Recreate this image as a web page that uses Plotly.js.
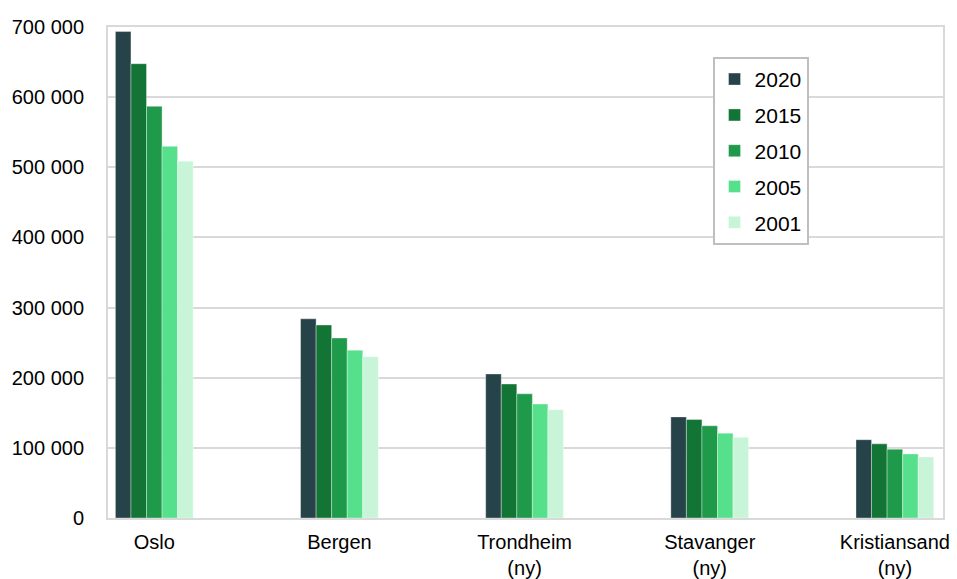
<!DOCTYPE html>
<html>
<head>
<meta charset="utf-8">
<script src="https://cdn.plot.ly/plotly-3.0.1.min.js"></script>
<style>html,body{margin:0;padding:0;background:#fff;}#chart{width:957px;height:579px;}</style>
</head>
<body>
<div id="chart"></div>
<script>
const categories = ["Oslo", "Bergen", "Trondheim<br>(ny)", "Stavanger<br>(ny)", "Kristiansand<br>(ny)"];
const years = ["2020", "2015", "2010", "2005", "2001"];
const v2020 = [693494, 283929, 205332, 144147, 111633];
const v2015 = [647676, 275112, 191000, 140400, 105700];
const v2010 = [586860, 256600, 177000, 131400, 98100];
const v2005 = [529846, 239209, 162400, 121000, 91400];
const v2001 = [508726, 230000, 154300, 115200, 87100];
const colors = ["#27434a", "#137535", "#1f9a4b", "#57e08b", "#c8f5d8"];
const series = [v2020, v2015, v2010, v2005, v2001];

const FONT = "Arial, 'Liberation Sans', sans-serif";
const traces = series.map((vals, i) => ({
  type: "bar",
  name: years[i],
  x: categories,
  y: vals,
  legendgroup: years[i],
  marker: {color: colors[i], line: {color: "rgba(255,255,255,0.35)", width: 1}},
  hoverinfo: "x+y+name"
}));

const layout = {
  width: 957, height: 579,
  margin: {l: 108, r: 14, t: 27, b: 61},
  paper_bgcolor: "#fff", plot_bgcolor: "#fff",
  separators: ", ",
  font: {family: FONT, size: 20, color: "#000"},
  barmode: "group",
  bargap: 0.58, bargroupgap: 0,
  showlegend: true,
  legend: {
    x: 0.724, y: 0.939, xanchor: "left", yanchor: "top",
    bordercolor: "#bfbfbf", borderwidth: 2, bgcolor: "#fff",
    font: {family: FONT, size: 21, color: "#000"},
    tracegroupgap: 5.5, traceorder: "grouped",
    entrywidth: 100, entrywidthmode: "pixels"
  },
  xaxis: {
    type: "category", range: [-0.25, 4.26],
    showline: true, mirror: true, linecolor: "#d9d9d9", linewidth: 2,
    showgrid: false, ticks: "", tickfont: {family: FONT, size: 20, color: "#000"},
    ticklabelstandoff: 5
  },
  yaxis: {
    range: [0, 700000], dtick: 100000, tickformat: ",d",
    showline: true, mirror: true, linecolor: "#d9d9d9", linewidth: 2,
    showgrid: true, gridcolor: "#d9d9d9", gridwidth: 2,
    zeroline: false, ticks: "",
    tickfont: {family: FONT, size: 20, color: "#000"},
    ticklabelstandoff: 18
  }
};

Plotly.newPlot("chart", traces, layout, {displayModeBar: false, staticPlot: true});
</script>
</body>
</html>
